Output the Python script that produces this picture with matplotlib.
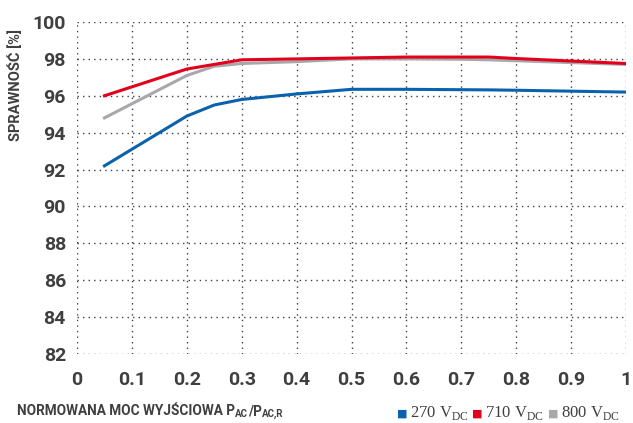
import numpy as np
import matplotlib.pyplot as plt
from matplotlib import font_manager

moc = [0.05, 0.2, 0.25, 0.3, 0.4, 0.5, 0.6, 0.7, 0.75, 0.8, 1.0]
spr_270 = [92.2, 94.9, 95.5, 95.8, 96.1, 96.35, 96.35, 96.33, 96.32, 96.3, 96.2]
spr_710 = [96.0, 97.45, 97.7, 97.95, 98.0, 98.05, 98.1, 98.1, 98.1, 98.02, 97.75]
spr_800 = [94.8, 97.1, 97.6, 97.75, 97.85, 98.0, 98.0, 97.98, 97.95, 97.9, 97.7]

x_ticks = np.arange(0, 1.01, 0.1)
x_labels = ["0", "0.1", "0.2", "0.3", "0.4", "0.5", "0.6", "0.7", "0.8", "0.9", "1"]
y_ticks = np.arange(82, 101, 2)

kolory = {"270": "#0a62ae", "710": "#e3001b", "800": "#a6a8ab"}
szary = "#3f3f3f"

# waski / pogrubiony font jesli jest
bold_fonts = {f.name for f in font_manager.fontManager.ttflist
              if (isinstance(f.weight, int) and f.weight >= 700) or f.weight in ("bold", "heavy", "black")}
font_n = "DejaVu Sans"
for kand in ["Liberation Sans Narrow", "Roboto", "Open Sans", "Lato", "Noto Sans", "Liberation Sans"]:
    if kand in bold_fonts:
        font_n = kand
        break

fig = plt.figure(figsize=(6.33, 4.23), dpi=100)
ax = fig.add_axes([77/633, 69/423, 549/633, 332/423])

ax.plot(moc, spr_800, color=kolory["800"], lw=2.2, zorder=3)
ax.plot(moc, spr_710, color=kolory["710"], lw=2.2, zorder=4)
ax.plot(moc, spr_270, color=kolory["270"], lw=2.2, zorder=3)

ax.set_xlim(0, 1)
ax.set_ylim(82, 100)
ax.set_xticks(x_ticks)
ax.set_xticklabels(x_labels)
ax.set_yticks(y_ticks)
for s in ax.spines.values():
    s.set_visible(False)
ax.grid(True, linestyle=(0, (1, 3)), color=szary, lw=1.0)
ax.tick_params(length=0, labelsize=14, labelcolor=szary)
ax.tick_params(axis="x", pad=12)
ax.tick_params(axis="y", pad=8)
for t in ax.get_xticklabels() + ax.get_yticklabels():
    t.set_fontfamily(font_n)
    t.set_fontweight("bold")

fig.text(0.024, (423 - 85) / 423, "SPRAWNOŚĆ [%]", rotation=90, ha="center", va="center",
         fontsize=10.5, fontweight="bold", color=szary, family=font_n)

fig.text(17/633, 1 - 411/423, "NORMOWANA MOC WYJŚCIOWA P", ha="left", va="center",
         fontsize=9.8, fontweight="bold", color=szary, family=font_n)
fig.text(17/633, 1 - 411/423, "", ha="left", va="center")
t0 = fig.texts[-2]
fig.canvas.draw()
bb = t0.get_window_extent()
x1 = bb.x1 / 633
fig.text(x1, 1 - 414/423, "AC", ha="left", va="center", fontsize=7, fontweight="bold",
         color=szary, family=font_n)
fig.text(x1 + 13/633, 1 - 411/423, "/P", ha="left", va="center", fontsize=9.8,
         fontweight="bold", color=szary, family=font_n)
fig.text(x1 + 27/633, 1 - 414/423, "AC,R", ha="left", va="center", fontsize=7,
         fontweight="bold", color=szary, family=font_n)

# legenda
leg_x = [397, 472, 548]
for xp, (k, c) in zip(leg_x, kolory.items()):
    fig.text(xp/633, 1 - 414/423, "■", color=c, fontsize=8, ha="left", va="center",
             family="DejaVu Sans")
    fig.text((xp + 13)/633, 1 - 413/423, k + r" V$_{\mathregular{DC}}$", color=szary, fontsize=12,
             ha="left", va="center", family="Liberation Serif")

fig.savefig("out.png", dpi=100)
